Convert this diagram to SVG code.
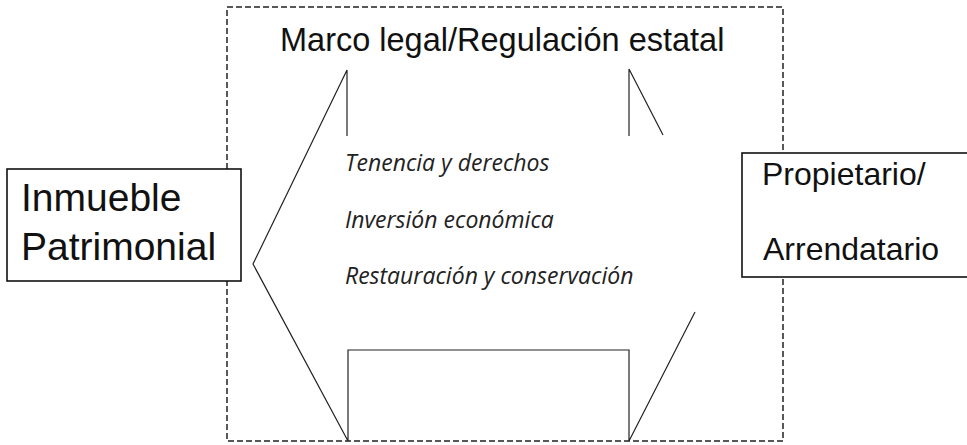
<svg xmlns="http://www.w3.org/2000/svg" width="967" height="445" viewBox="0 0 967 445">
<style>
.frame{fill:none;stroke:#222;stroke-width:1.5;stroke-dasharray:6,3}
.line{fill:none;stroke:#222;stroke-width:1.2}
.box{fill:#fff;stroke:#111;stroke-width:1.6}
.big{font-family:"Liberation Sans",Arial,sans-serif;fill:#111}
.it{font-family:"Open Sans","Noto Sans",sans-serif;font-style:italic;font-size:23px;fill:#222}
</style>
<rect width="967" height="445" fill="#fff"/>
<g id="frame">
<rect class="frame" x="227" y="7" width="556" height="434"/>
<text class="big" x="280" y="51" font-size="32.5">Marco legal/Regulación estatal</text>
</g>
<g id="connectors">
<polyline class="line" points="347,136 347,70 253,264 348,441 348,350 629,350 629,441 695,312"/>
<polyline class="line" points="629,136 629,69 663,135"/>
</g>
<g id="items">
<text class="it" x="345" y="171">Tenencia y derechos</text>
<text class="it" x="345" y="228">Inversión económica</text>
<text class="it" x="345" y="284">Restauración y conservación</text>
</g>
<g id="inmueble">
<rect class="box" x="7" y="169" width="234" height="112"/>
<text class="big" x="21" y="211" font-size="39">Inmueble</text>
<text class="big" x="21" y="260" font-size="39">Patrimonial</text>
</g>
<g id="propietario">
<rect class="box" x="742" y="153" width="240" height="124"/>
<text class="big" x="762" y="185" font-size="32">Propietario/</text>
<text class="big" x="763" y="260" font-size="32">Arrendatario</text>
</g>
</svg>
